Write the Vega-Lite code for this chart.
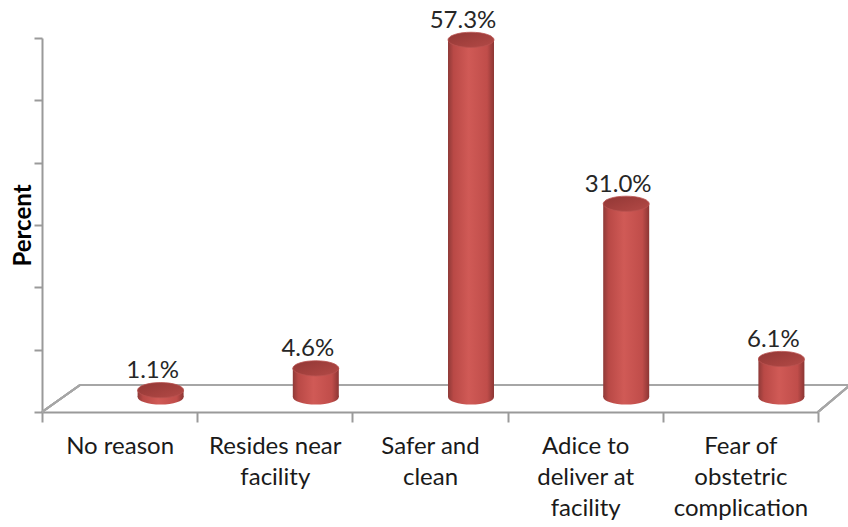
{
  "$schema": "https://vega.github.io/schema/vega-lite/v6.json",
  "width": 776,
  "height": 374,
  "autosize": "none",
  "padding": {"left": 42, "top": 38, "right": 30, "bottom": 115},
  "background": "white",
  "config": {
    "view": {"stroke": null},
    "font": "Lato"
  },
  "data": {
    "values": [
      {"reason": "No reason", "pct": 1.1},
      {"reason": "Resides near facility", "pct": 4.6},
      {"reason": "Safer and clean", "pct": 57.3},
      {"reason": "Adice to deliver at facility", "pct": 31.0},
      {"reason": "Fear of obstetric complication", "pct": 6.1}
    ]
  },
  "encoding": {
    "x": {
      "field": "reason",
      "type": "nominal",
      "sort": null,
      "scale": {
        "domain": ["No reason", "Resides near facility", "Safer and clean", "Adice to deliver at facility", "Fear of obstetric complication"],
        "paddingInner": 0,
        "paddingOuter": 0
      },
      "axis": {
        "title": null,
        "labelAngle": 0,
        "labelFont": "Lato",
        "labelFontSize": 24,
        "labelColor": "#1a1a1a",
        "labelLineHeight": 31,
        "labelPadding": 12,
        "labelExpr": "datum.value == 'Resides near facility' ? ['Resides near', 'facility'] : datum.value == 'Safer and clean' ? ['Safer and', 'clean'] : datum.value == 'Adice to deliver at facility' ? ['Adice to', 'deliver at', 'facility'] : datum.value == 'Fear of obstetric complication' ? ['Fear of', 'obstetric', 'complication'] : datum.value",
        "domainColor": "#9a9a9a",
        "domainWidth": 2,
        "tickColor": "#9a9a9a",
        "tickWidth": 2,
        "tickSize": 10,
        "tickBand": "extent"
      }
    }
  },
  "layer": [
    {
      "mark": {"type": "rule", "color": "#a6a6a6", "strokeWidth": 2, "xOffset": 38, "x2Offset": 109.6, "yOffset": -27, "y2Offset": -27},
      "encoding": {
        "x": {"datum": "No reason", "bandPosition": 0},
        "x2": {"datum": "Fear of obstetric complication"},
        "y": {"datum": 0, "type": "quantitative", "scale": {"domain": [0, 60], "nice": false}},
        "y2": {"datum": 0}
      }
    },
    {
      "mark": {"type": "rule", "color": "#a6a6a6", "strokeWidth": 2, "x2Offset": -39.6, "y2Offset": -27},
      "encoding": {
        "x": {"datum": "No reason", "bandPosition": 0},
        "x2": {"datum": "No reason"},
        "y": {"datum": 0, "type": "quantitative"},
        "y2": {"datum": 0}
      }
    },
    {
      "mark": {"type": "rule", "color": "#a6a6a6", "strokeWidth": 2, "x2Offset": 109.6, "y2Offset": -27},
      "encoding": {
        "x": {"datum": "Fear of obstetric complication", "bandPosition": 1},
        "x2": {"datum": "Fear of obstetric complication"},
        "y": {"datum": 0, "type": "quantitative"},
        "y2": {"datum": 0}
      }
    },
    {
      "mark": {
        "type": "point",
        "filled": true,
        "opacity": 1,
        "size": 2116,
        "shape": "M-1,0A1,0.33,0,1,0,1,0A1,0.33,0,1,0,-1,0Z",
        "xOffset": 41,
        "yOffset": -15,
        "color": {"gradient": "linear", "x1": 0, "x2": 1, "y1": 0, "y2": 0,
          "stops": [
            {"offset": 0, "color": "#8f3a38"},
            {"offset": 0.12, "color": "#b94946"},
            {"offset": 0.45, "color": "#d05a56"},
            {"offset": 0.85, "color": "#c04d4a"},
            {"offset": 1, "color": "#8c3634"}
          ]}
      },
      "encoding": {"y": {"datum": 0, "type": "quantitative"}}
    },
    {
      "mark": {
        "type": "bar",
        "width": 46,
        "xOffset": 41,
        "yOffset": -15,
        "y2Offset": -15,
        "color": {"gradient": "linear", "x1": 0, "x2": 1, "y1": 0, "y2": 0,
          "stops": [
            {"offset": 0, "color": "#8f3a38"},
            {"offset": 0.12, "color": "#b94946"},
            {"offset": 0.45, "color": "#d05a56"},
            {"offset": 0.85, "color": "#c04d4a"},
            {"offset": 1, "color": "#8c3634"}
          ]}
      },
      "encoding": {
        "y": {"field": "pct", "type": "quantitative", "scale": {"domain": [0, 60], "nice": false},
          "axis": {
            "title": "Percent",
            "titleFont": "Lato",
            "titleFontSize": 24,
            "titleFontWeight": "bold",
            "titleColor": "#000000",
            "titleX": -19,
            "titleY": 187,
            "titleAngle": -90,
            "titleAlign": "center",
            "titleBaseline": "middle",
            "labels": false,
            "grid": false,
            "values": [0, 10, 20, 30, 40, 50, 60],
            "domainColor": "#9a9a9a",
            "domainWidth": 2,
            "tickColor": "#9a9a9a",
            "tickWidth": 2,
            "tickSize": 8
          }}
      }
    },
    {
      "mark": {
        "type": "point",
        "filled": true,
        "opacity": 1,
        "size": 2116,
        "shape": "M-1,0A1,0.33,0,1,0,1,0A1,0.33,0,1,0,-1,0Z",
        "xOffset": 41,
        "yOffset": -15,
        "stroke": "#b9524f",
        "strokeWidth": 0.8,
        "color": {"gradient": "linear", "x1": 0, "x2": 1, "y1": 0, "y2": 1,
          "stops": [
            {"offset": 0, "color": "#913735"},
            {"offset": 0.6, "color": "#a6423f"},
            {"offset": 1, "color": "#b34a47"}
          ]}
      },
      "encoding": {"y": {"field": "pct", "type": "quantitative"}}
    },
    {
      "mark": {
        "type": "text",
        "font": "Lato",
        "fontSize": 24,
        "color": "#262626",
        "baseline": "alphabetic",
        "xOffset": 33,
        "yOffset": -27,
        "text": {"expr": "format(datum.pct, '.1f') + '%'"}
      },
      "encoding": {"y": {"field": "pct", "type": "quantitative"}}
    }
  ]
}
